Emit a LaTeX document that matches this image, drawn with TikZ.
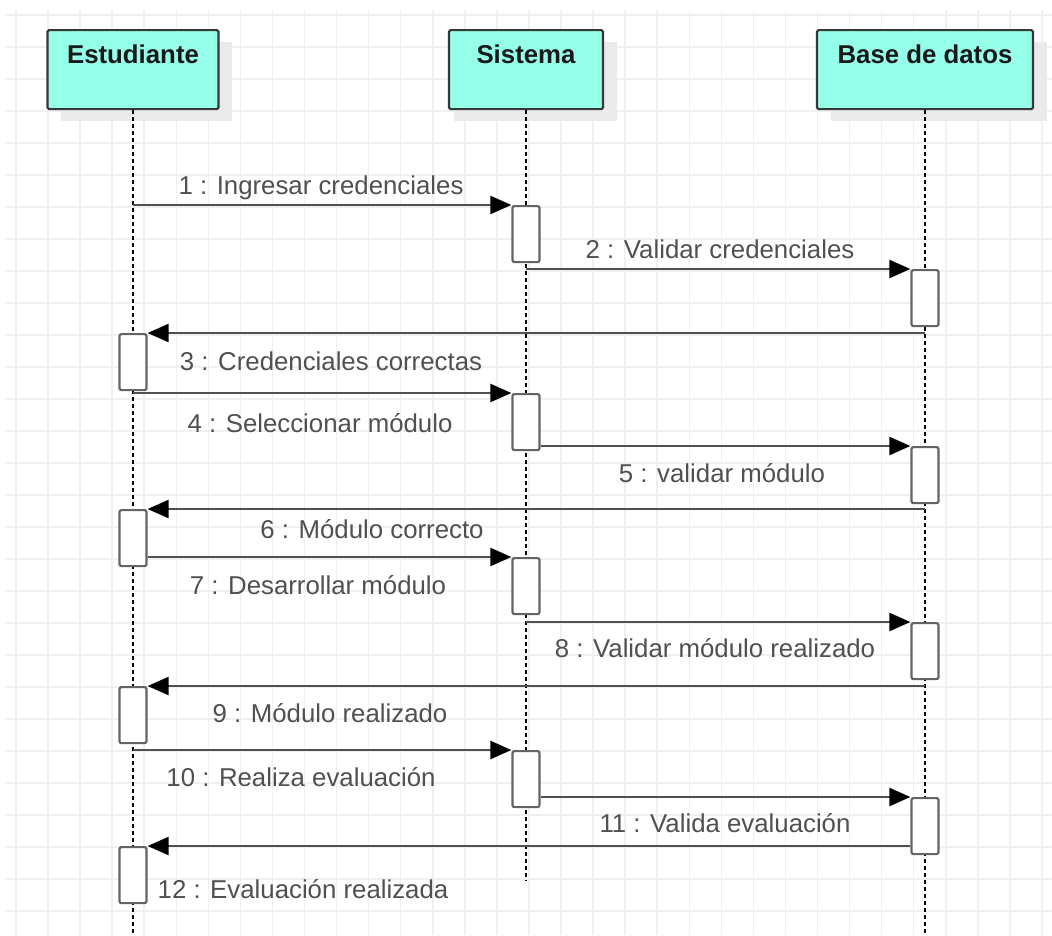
\documentclass[tikz,border=0pt]{standalone}
\usepackage{fontspec}
\setmainfont{Liberation Sans}
\usetikzlibrary{arrows.meta}
\definecolor{headfill}{RGB}{150,255,234}
\definecolor{headdraw}{RGB}{55,55,55}
\definecolor{gridc}{RGB}{240,240,240}
\definecolor{shadowc}{RGB}{234,234,234}
\definecolor{actdraw}{RGB}{100,100,100}
\definecolor{msgc}{RGB}{80,80,80}
\definecolor{labc}{RGB}{80,80,80}
\definecolor{headtxtc}{RGB}{25,25,25}
\begin{document}
\begin{tikzpicture}[x=1pt,y=-1pt,
  head/.style={draw=headdraw, fill=headfill, line width=2.2pt, rounded corners=1.5pt, minimum height=79pt, inner sep=0pt, anchor=north},
  headtxt/.style={font=\fontsize{25.8}{30}\selectfont\bfseries, text=headtxtc, anchor=base, inner sep=0pt},
  life/.style={line width=1.9pt, dash pattern=on 4pt off 3pt},
  act/.style={draw=actdraw, fill=white, line width=2.2pt, rounded corners=2pt, minimum width=27pt, minimum height=56pt, inner sep=0pt, anchor=north},
  msg/.style={draw=msgc, line width=2.3pt, -{Triangle[length=21pt,width=18pt,color=black]}},
  lab/.style={font=\fontsize{25.8}{30}\selectfont, text=labc, anchor=base, inner sep=0pt},
  gridline/.style={draw=gridc, line width=1.5pt}
]
\useasboundingbox (0,0) rectangle (1052,935);
\fill[white] (0,0) rectangle (1052,935);
% grid
\begin{scope}
\clip (5,10) rectangle (1052,935);
\foreach \i in {0,...,32} \draw[gridline] ({16+32.06*\i},10) -- ({16+32.06*\i},935);
\foreach \j in {0,...,29} \draw[gridline] (5,{15+32*\j}) -- (1052,{15+32*\j});
\end{scope}
% shadows
\fill[shadowc] (61,42) rectangle (232,121);
\fill[shadowc] (454,42) rectangle (617,121);
\fill[shadowc] (831,42) rectangle (1047,121);
% headers
\node[head, minimum width=171pt] (E) at (133,29) {};
\node[head, minimum width=154pt] (S) at (526,29) {};
\node[head, minimum width=216pt] (B) at (925,29) {};
\node[headtxt] (Et) at (133,63) {Estudiante};
\node[headtxt] (St) at (526,63) {Sistema};
\node[headtxt] (Bt) at (925,63) {Base de datos};
% lifelines
\coordinate (Eend) at (133,935);
\coordinate (Send) at (526,881);
\coordinate (Bend) at (925,935);
\draw[life] (E.south) -- (Eend);
\draw[life] (S.south) -- (Send);
\draw[life] (B.south) -- (Bend);
% activations
\node[act] (sa1) at (526,205) {};
\node[act] (ba1) at (925,269) {};
\node[act] (ea1) at (133,333) {};
\node[act] (sa2) at (526,393) {};
\node[act] (ba2) at (925,446) {};
\node[act] (ea2) at (133,509) {};
\node[act] (sa3) at (526,557) {};
\node[act] (ba3) at (925,622) {};
\node[act] (ea3) at (133,686) {};
\node[act] (sa4) at (526,750) {};
\node[act] (ba4) at (925,797) {};
\node[act] (ea4) at (133,846) {};
% messages
\draw[msg] (E |- sa1.north west) -- (sa1.north west);
\draw[msg] (S |- ba1.north west) -- (ba1.north west);
\draw[msg] (B |- ea1.north east) -- (ea1.north east);
\draw[msg] (E |- sa2.north west) -- (sa2.north west);
\draw[msg] (sa2.east |- ba2.north west) -- (ba2.north west);
\draw[msg] (B |- ea2.north east) -- (ea2.north east);
\draw[msg] (ea2.east |- sa3.north west) -- (sa3.north west);
\draw[msg] (S |- ba3.north west) -- (ba3.north west);
\draw[msg] (B |- ea3.north east) -- (ea3.north east);
\draw[msg] (E |- sa4.north west) -- (sa4.north west);
\draw[msg] (sa4.east |- ba4.north west) -- (ba4.north west);
\draw[msg] (ba4.west |- ea4.north east) -- (ea4.north east);
% labels
\node[lab] (l1) at (321,194) {1 : Ingresar credenciales};
\node[lab] (l2) at (720,258) {2 : Validar credenciales};
\node[lab] (l3) at (331,370) {3 : Credenciales correctas};
\node[lab] (l4) at (320,432) {4 : Seleccionar módulo};
\node[lab] (l5) at (722,482) {5 : validar módulo};
\node[lab] (l6) at (372,538) {6 : Módulo correcto};
\node[lab] (l7) at (318,594) {7 : Desarrollar módulo};
\node[lab] (l8) at (715,657) {8 : Validar módulo realizado};
\node[lab] (l9) at (330,722) {9 : Módulo realizado};
\node[lab] (l10) at (301,786) {10 : Realiza evaluación};
\node[lab] (l11) at (725,832) {11 : Valida evaluación};
\node[lab] (l12) at (303,898) {12 : Evaluación realizada};
\end{tikzpicture}
\end{document}
